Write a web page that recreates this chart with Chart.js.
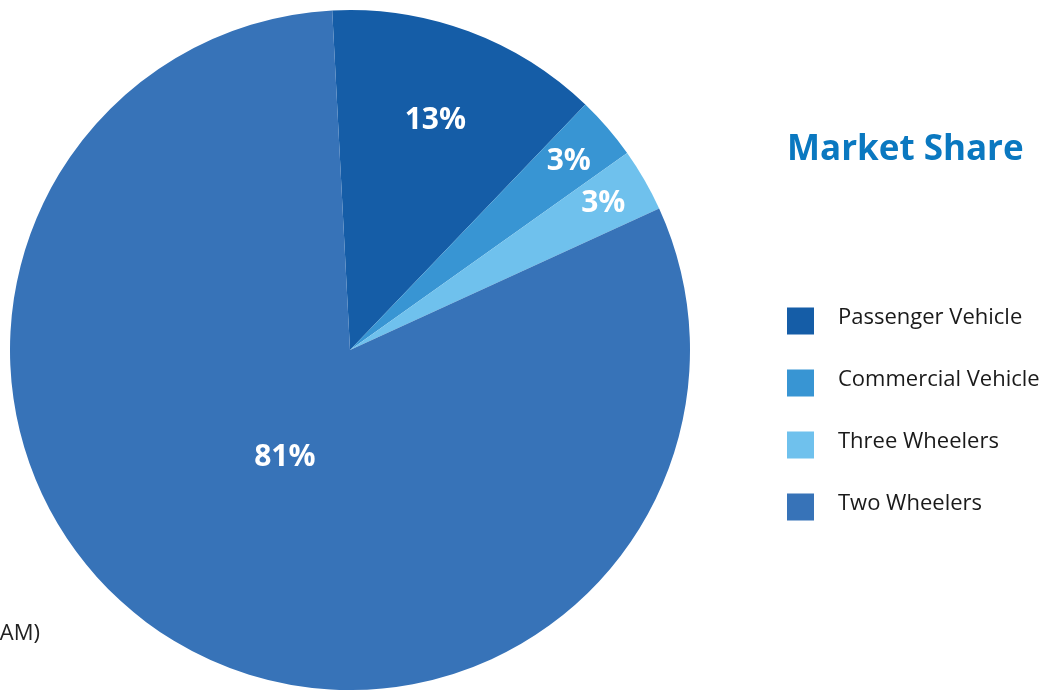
<!DOCTYPE html>
<html>
<head>
<meta charset="utf-8">
<script src="https://cdn.jsdelivr.net/npm/chart.js@4/dist/chart.umd.min.js"></script>
<style>
html, body { margin: 0; padding: 0; background: #fff; }
#wrap { width: 1046px; height: 690px; position: relative; }
</style>
</head>
<body>
<div id="wrap"><canvas id="shareChart"></canvas></div>
<script>
// Market share by vehicle segment
const segments = ['Passenger Vehicle', 'Commercial Vehicle', 'Three Wheelers', 'Two Wheelers']
const shares = [13, 3, 3, 81]
const segmentColors = ['#155DA7', '#3895D3', '#6FC1ED', '#3773B8']
const chartTitle = 'Market Share'
const sourceNote = '(SIAM)'

// how far out (fraction of radius) each % label sits
const labelRadius = [0.72, 0.85, 0.86, 0.37]

const sliceLabels = {
    id: 'sliceLabels',
    afterDatasetsDraw(chart) {
        const ctx = chart.ctx
        const meta = chart.getDatasetMeta(0)
        ctx.save()
        ctx.font = 'bold 30px "Open Sans"'
        ctx.fillStyle = '#fff'
        ctx.textAlign = 'center'
        ctx.textBaseline = 'middle'
        meta.data.forEach((arc, i) => {
            const p = arc.getProps(['x', 'y', 'startAngle', 'endAngle', 'outerRadius'], true)
            const mid = (p.startAngle + p.endAngle) / 2
            const r = p.outerRadius * labelRadius[i]
            ctx.fillText(shares[i] + '%', p.x + Math.cos(mid) * r, p.y + Math.sin(mid) * r)
        })
        ctx.restore()
    }
}

// title + legend on the right, plus the cut off source note
const sideLegend = {
    id: 'sideLegend',
    afterDraw(chart) {
        const ctx = chart.ctx
        const left = chart.chartArea.right + 97
        ctx.save()
        ctx.textBaseline = 'middle'
        ctx.textAlign = 'left'
        ctx.font = 'bold 35px "Open Sans"'
        ctx.fillStyle = '#0A78C0'
        ctx.fillText(chartTitle, left, 150)

        ctx.font = '22px "Open Sans"'
        segments.forEach((name, i) => {
            const cy = 321 + i * 62
            ctx.fillStyle = segmentColors[i]
            ctx.fillRect(left, cy - 13.5, 27, 27)
            ctx.fillStyle = '#1A1A1A'
            ctx.fillText(name, left + 51, cy - 3)
        })

        ctx.textAlign = 'right'
        ctx.fillStyle = '#222'
        ctx.fillText(sourceNote, 40, 634)
        ctx.restore()
    }
}

const ctx = document.getElementById('shareChart')
const shareChart = new Chart(ctx, {
    type: 'pie',
    data: {
        labels: segments,
        datasets: [{
            data: shares,
            backgroundColor: segmentColors,
            borderWidth: 0
        }]
    },
    options: {
        responsive: true,
        maintainAspectRatio: false,
        animation: false,
        rotation: -3,
        layout: { padding: { top: 10, left: 10, right: 356, bottom: 0 } },
        plugins: {
            legend: { display: false },
            tooltip: { enabled: false }
        }
    },
    plugins: [sliceLabels, sideLegend]
});
</script>
</body>
</html>
